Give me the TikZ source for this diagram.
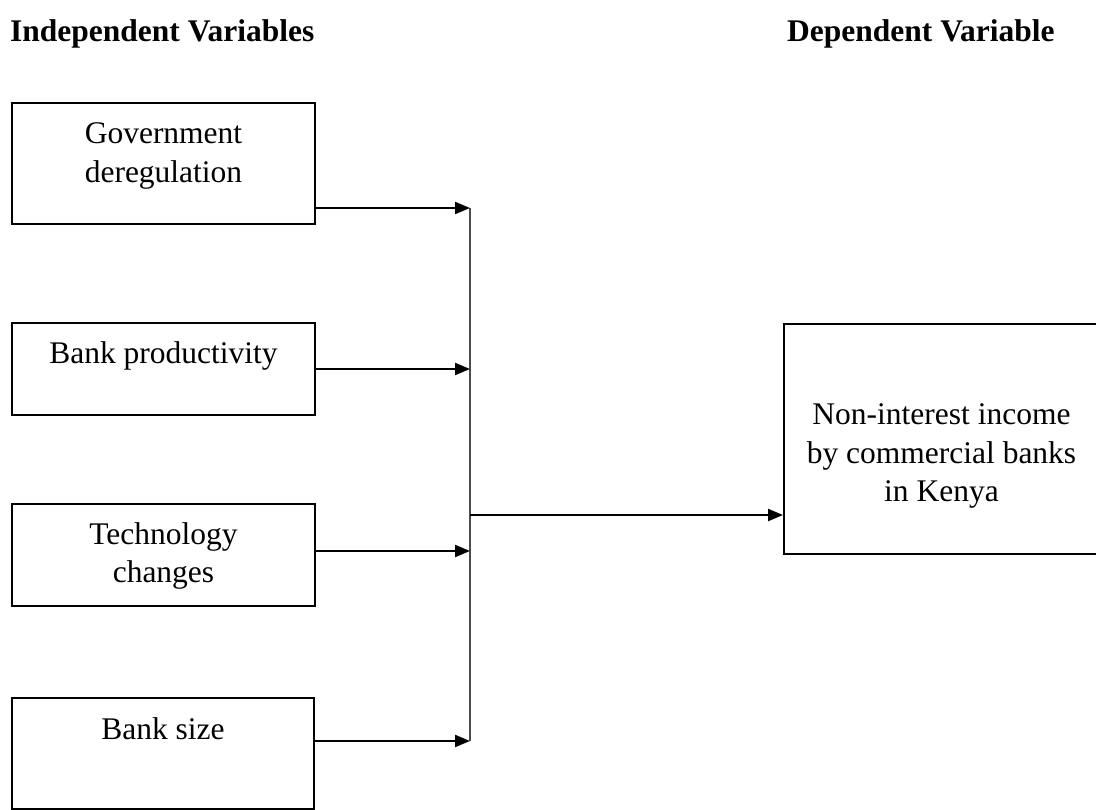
\documentclass[tikz,border=0pt]{standalone}
\usepackage{fontspec}
\setmainfont{Liberation Serif}
\usetikzlibrary{arrows.meta}
\newcommand{\topbox}[4]{\parbox[c][#2][t]{#1}{\centering\fontsize{31.5pt}{38.5pt}\selectfont\rule{0pt}{#3}#4\par}}
\tikzset{
  varbox/.style={draw=black, line width=2pt, inner sep=0pt, anchor=north west},
  feed/.style={line width=2.2pt, -{Triangle[length=15pt,width=12pt]}},
  trunk/.style={draw=black!70, line width=1.3pt},
  heading/.style={anchor=base west, inner sep=0pt, font=\fontsize{31.5pt}{38pt}\selectfont\bfseries}
}
\begin{document}
\begin{tikzpicture}[x=1pt,y=-1pt]
\useasboundingbox[fill=white] (0,0) rectangle (1096,810);
\node[heading] (hi) at (10,42) {Independent Variables};
\node[heading] (hd) at (787,42) {Dependent Variable};
\node[varbox] (b1) at (11,102) {\topbox{303pt}{121pt}{41pt}{Government\\deregulation}};
\node[varbox] (b2) at (11,322) {\topbox{303pt}{92pt}{41pt}{Bank productivity}};
\node[varbox] (b3) at (11,503) {\topbox{303pt}{102pt}{40pt}{Technology\\changes}};
\node[varbox] (b4) at (11,697) {\topbox{302pt}{111pt}{41pt}{Bank size}};
\node[varbox] (dv) at (783,323) {\topbox{315pt}{230pt}{101pt}{Non-interest income\\by commercial banks\\in Kenya}};
\coordinate (t1) at (470,208);
\coordinate (t2) at (470,369);
\coordinate (t3) at (470,551);
\coordinate (t4) at (470,741);
\coordinate (tm) at (470,515);
\draw[trunk] (t1) -- (t4);
\draw[feed] (b1.east |- t1) -- (t1);
\draw[feed] (b2.east |- t2) -- (t2);
\draw[feed] (b3.east |- t3) -- (t3);
\draw[feed] (b4.east |- t4) -- (t4);
\draw[feed] (tm) -- (dv.west |- tm);
\end{tikzpicture}
\end{document}
